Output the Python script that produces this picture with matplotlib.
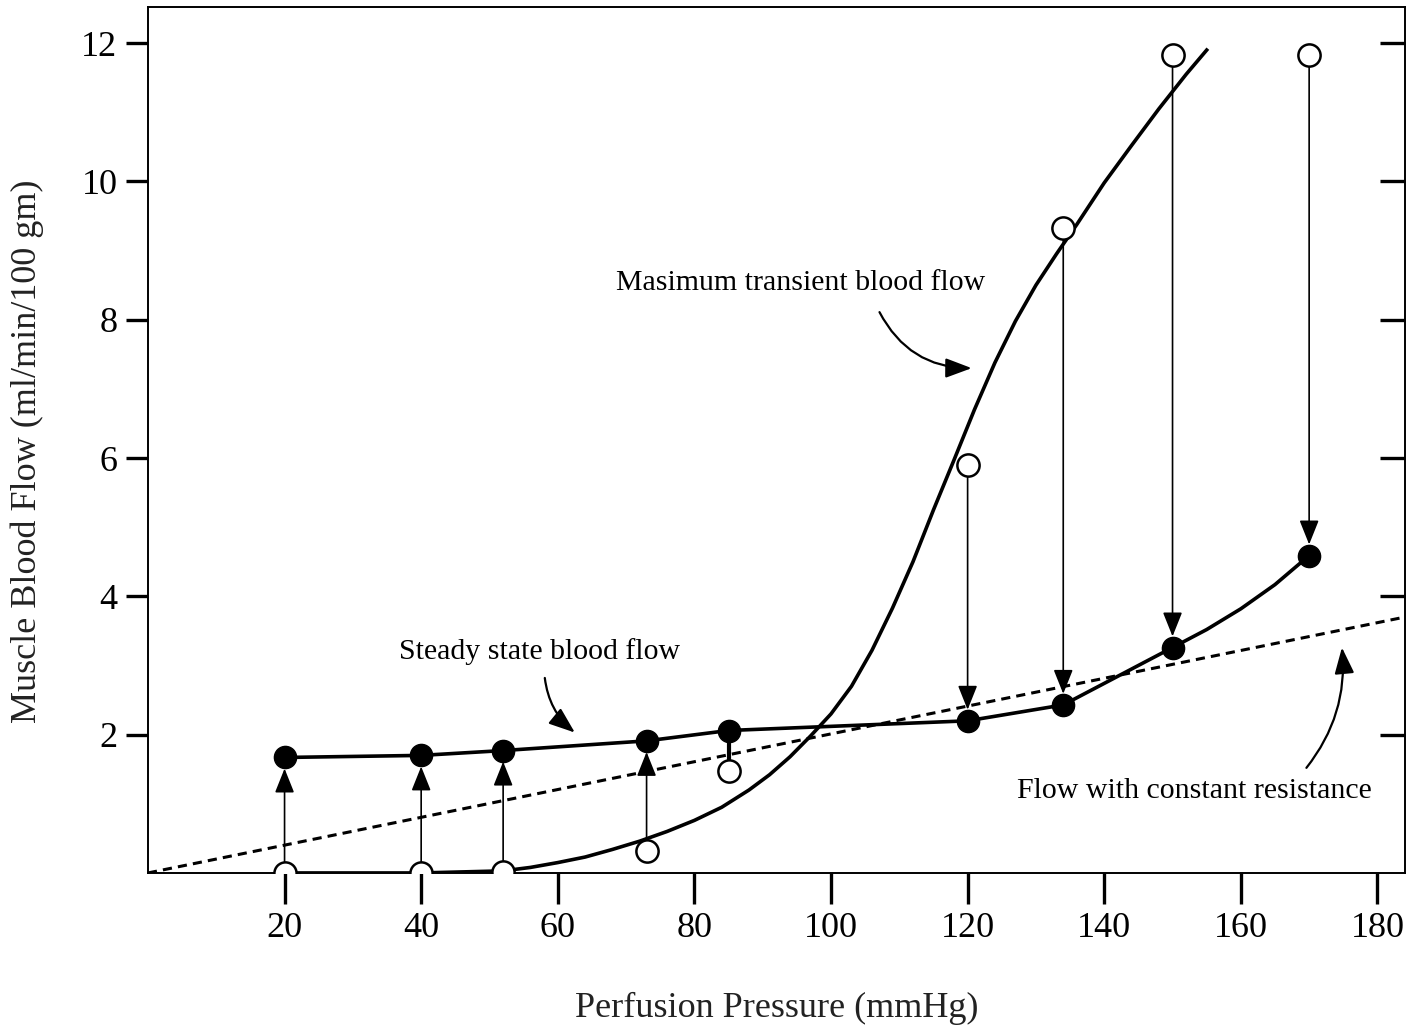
import matplotlib
matplotlib.use('Agg')
import matplotlib.pyplot as plt

plt.rcParams['font.family'] = ['Liberation Serif', 'DejaVu Serif']

# measured points
pressure = [20, 40, 52, 73, 85, 120, 134, 150, 170]
transient = [0.0, 0.0, 0.02, 0.32, 1.48, 5.9, 9.33, 11.83, 11.83]
steady = [1.67, 1.70, 1.77, 1.91, 2.06, 2.20, 2.43, 3.26, 4.59]

# fitted curves
transient_curve_x = [20, 40, 52, 56, 60, 64, 68, 72, 76, 80, 84, 88, 91, 94,
                     97, 100, 103, 106, 109, 112, 115, 118, 121, 124, 127,
                     130, 133, 136, 140, 144, 148, 152, 155]
transient_curve_y = [0.0, 0.0, 0.03, 0.08, 0.15, 0.23, 0.34, 0.46, 0.6, 0.76,
                     0.95, 1.2, 1.42, 1.68, 1.98, 2.3, 2.7, 3.22, 3.83, 4.5,
                     5.25, 5.97, 6.7, 7.38, 7.98, 8.5, 8.95, 9.38, 9.98, 10.52,
                     11.05, 11.55, 11.9]
steady_curve_x = [20, 40, 52, 73, 85, 120, 134, 150, 155, 160, 165, 170]
steady_curve_y = [1.67, 1.70, 1.77, 1.91, 2.06, 2.20, 2.43, 3.26, 3.52, 3.82,
                  4.17, 4.59]

resistance_x = [0, 184]
resistance_y = [0, 3.7]

fig = plt.figure(figsize=(14.09, 10.27), dpi=100)
ax = fig.add_axes([0.105, 0.15, 0.892, 0.843])

ax.plot(resistance_x, resistance_y, color='black', lw=2.2, ls=(0, (3, 2)), zorder=2)
ax.plot(transient_curve_x, transient_curve_y, color='black', lw=2.6, zorder=3)
ax.plot(steady_curve_x, steady_curve_y, color='black', lw=2.6, zorder=3)

# arrows from transient to steady state
for x, y0, y1 in zip(pressure, transient, steady):
    if abs(y1 - y0) * 69 < 45:
        ax.plot([x, x], [y0, y1], color='black', lw=3, zorder=2)
        continue
    ax.annotate('', xy=(x, y1), xytext=(x, y0),
                arrowprops=dict(arrowstyle='-|>,head_length=0.75,head_width=0.3',
                                mutation_scale=20, color='black', lw=1.2,
                                shrinkA=8, shrinkB=8), zorder=2)

ax.plot(pressure, transient, 'o', ms=16, mfc='white', mec='black', mew=1.8, zorder=5)
ax.plot(pressure, steady, 'o', ms=16, mfc='black', mec='black', zorder=5)

ax.text(95.5, 8.53, 'Masimum transient blood flow', ha='center', va='center', fontsize=21.5)
ax.annotate('', xy=(120.6, 7.30), xytext=(107.1, 8.11),
            arrowprops=dict(arrowstyle='-|>,head_length=0.8,head_width=0.3',
                            mutation_scale=20, color='black', lw=1.6,
                            connectionstyle='arc3,rad=0.3', shrinkA=0, shrinkB=0))
ax.text(57.3, 3.2, 'Steady state blood flow', ha='center', va='center', fontsize=21.5)
ax.annotate('', xy=(62.5, 2.03), xytext=(58.1, 2.82),
            arrowprops=dict(arrowstyle='-|>,head_length=0.8,head_width=0.3',
                            mutation_scale=20, color='black', lw=1.6,
                            connectionstyle='arc3,rad=0.2', shrinkA=0, shrinkB=0))
ax.text(153.2, 1.19, 'Flow with constant resistance', ha='center', va='center', fontsize=21.5)
ax.annotate('', xy=(174.8, 3.26), xytext=(169.6, 1.52),
            arrowprops=dict(arrowstyle='-|>,head_length=0.8,head_width=0.3',
                            mutation_scale=20, color='black', lw=1.6,
                            connectionstyle='arc3,rad=0.2', shrinkA=0, shrinkB=0))

ax.set_xlim(0, 184)
ax.set_ylim(0, 12.52)
ax.set_xticks([20, 40, 60, 80, 100, 120, 140, 160, 180])
ax.set_yticks([2, 4, 6, 8, 10, 12])
ax.tick_params(axis='x', direction='out', length=22, width=2.4, labelsize=26, pad=6)
ax.tick_params(axis='y', direction='out', length=16, width=2.4, labelsize=26, pad=6)
ax.tick_params(axis='y', which='both', right=True, labelright=False)
for t in ax.yaxis.get_ticklines()[1::2]:
    t.set_marker(0)
    t.set_markersize(18)
for s in ax.spines.values():
    s.set_linewidth(1.4)

ax.set_xlabel('Perfusion Pressure (mmHg)', fontsize=26, color='#222222')
ax.set_ylabel('Muscle Blood Flow (ml/min/100 gm)', fontsize=26, color='#222222')
ax.xaxis.set_label_coords(0.5, -0.137)
ax.yaxis.set_label_coords(-0.083, 0.487)

fig.savefig('out.png', dpi=100)
